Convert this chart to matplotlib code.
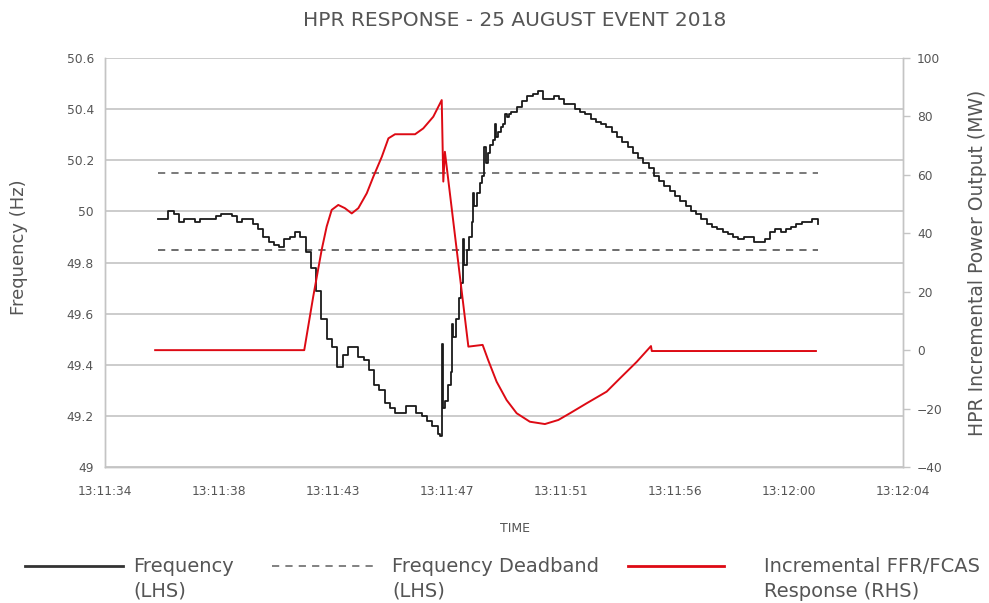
import numpy as np
import matplotlib
matplotlib.use("Agg")
import matplotlib.pyplot as plt
from matplotlib.lines import Line2D

# ---------------------------------------------------------------------------
# Data (time in seconds after 13:11:34)
# ---------------------------------------------------------------------------
TICK_STEP = 4.32
time_labels = ["13:11:34", "13:11:38", "13:11:43", "13:11:47",
               "13:11:51", "13:11:56", "13:12:00", "13:12:04"]

# frequency before the trip, sampled every 0.2 s from t = 2.0
pre_start, pre_step = 2.0, 0.2
freq_pre = [
    49.97, 49.97, 50.00, 49.99, 49.96, 49.97, 49.97, 49.96, 49.97, 49.97,
    49.97, 49.98, 49.99, 49.99, 49.98, 49.96, 49.97, 49.97, 49.95, 49.93,
    49.90, 49.88, 49.87, 49.86, 49.89, 49.90, 49.92, 49.90, 49.84, 49.78,
    49.69, 49.58, 49.50, 49.47, 49.39, 49.44, 49.47, 49.47, 49.43, 49.42,
    49.38, 49.32, 49.30, 49.25, 49.23, 49.21, 49.21, 49.24, 49.24, 49.21,
    49.20, 49.18, 49.16, 49.13,
]

# fast recovery, read at finer resolution (spiky part)
rise_time = [12.7, 12.78, 12.82, 12.9, 13.0, 13.1, 13.16, 13.2, 13.3, 13.4,
             13.5, 13.58, 13.62, 13.7, 13.8, 13.9, 13.96, 14.0, 14.1, 14.2,
             14.3, 14.36, 14.42, 14.5, 14.6, 14.7, 14.76, 14.82, 14.9, 15.0,
             15.1, 15.16, 15.22, 15.3]
freq_rise = [49.12, 49.48, 49.23, 49.26, 49.32, 49.37, 49.56, 49.51, 49.58, 49.66,
             49.72, 49.89, 49.79, 49.85, 49.90, 49.96, 50.07, 50.02, 50.07, 50.11,
             50.14, 50.25, 50.19, 50.23, 50.26, 50.28, 50.34, 50.29, 50.31, 50.33,
             50.34, 50.38, 50.37, 50.38]

# overshoot and settling, every 0.2 s from t = 15.4
post_start, post_step = 15.4, 0.2
freq_post = [
    50.39, 50.41, 50.43, 50.45, 50.46, 50.47, 50.44, 50.44, 50.45, 50.44,
    50.42, 50.42, 50.40, 50.39, 50.38, 50.36, 50.35, 50.34, 50.33, 50.31,
    50.29, 50.27, 50.25, 50.23, 50.21, 50.19, 50.17, 50.14, 50.12, 50.10,
    50.08, 50.06, 50.04, 50.02, 50.00, 49.99, 49.97, 49.95, 49.94, 49.93,
    49.92, 49.91, 49.90, 49.89, 49.90, 49.90, 49.88, 49.88, 49.89, 49.92,
    49.93, 49.92, 49.93, 49.94, 49.95, 49.96, 49.96, 49.97, 49.95,
]

deadband_upper = 50.15
deadband_lower = 49.85

resp_time = [1.9, 7.55, 7.89, 8.21, 8.40, 8.59, 8.84, 9.09, 9.35, 9.60,
             9.92, 10.17, 10.49, 10.74, 10.99, 11.75, 12.06, 12.44, 12.76,
             12.82, 12.88, 13.77, 14.31, 14.52, 14.84, 15.22, 15.60, 16.10,
             16.67, 17.18, 17.62, 18.25, 19.01, 19.52, 20.15, 20.69, 20.72,
             26.94]
resp_mw = [0.0, 0.0, 18.3, 34.3, 42.3, 48.0, 49.7, 48.6, 46.8, 48.6,
           53.7, 59.4, 66.2, 72.5, 73.9, 73.9, 75.9, 79.9, 85.6,
           57.7, 67.9, 1.2, 1.8, -3.4, -10.8, -17.1, -21.6, -24.5,
           -25.3, -23.9, -21.6, -18.2, -14.2, -9.6, -4.0, 1.4, -0.3,
           -0.3]

# ---------------------------------------------------------------------------
# Style
# ---------------------------------------------------------------------------
plt.rcParams["font.family"] = ["DejaVu Sans"]
TEXT = "#555555"
GRID = "#c4c4c4"
RED = "#dd0a14"
DASH = (0, (4, 3.4))

freq_time = np.concatenate([
    pre_start + pre_step * np.arange(len(freq_pre)),
    rise_time,
    post_start + post_step * np.arange(len(freq_post)),
])
frequency = np.concatenate([freq_pre, freq_rise, freq_post])

fig = plt.figure(figsize=(9.89, 6.03), dpi=100)
ax = fig.add_axes([105 / 989, 1 - 467 / 603, 798 / 989, 409 / 603])
ax2 = ax.twinx()

ax.set_axisbelow(True)
ax.yaxis.grid(True, color=GRID, linewidth=1.2)

ax.plot(freq_time, frequency, color="#1a1a1a", lw=1.3, drawstyle="steps-post", zorder=4)
ax.plot([freq_time[0], freq_time[-1]], [deadband_upper] * 2, color="#707070",
        lw=1.3, linestyle=DASH, zorder=3)
ax.plot([freq_time[0], freq_time[-1]], [deadband_lower] * 2, color="#606060",
        lw=1.3, linestyle=DASH, zorder=3)
ax2.plot(resp_time, resp_mw, color=RED, lw=1.4, zorder=5)

ax.set_xlim(0, TICK_STEP * (len(time_labels) - 1))
ax.set_ylim(49, 50.6)
ax2.set_ylim(-40, 100)
ax.set_xticks([TICK_STEP * i for i in range(len(time_labels))])
ax.set_xticklabels(time_labels)
ax.set_yticks(np.arange(49, 50.61, 0.2))
ax.set_yticklabels(["49", "49.2", "49.4", "49.6", "49.8", "50", "50.2", "50.4", "50.6"])
ax2.set_yticks(np.arange(-40, 101, 20))

for a in (ax, ax2):
    for s in a.spines.values():
        s.set_color(GRID)
        s.set_linewidth(1.0)
    a.spines["top"].set_visible(False)
ax.tick_params(axis="x", length=0, pad=13, labelsize=8.8, labelcolor=TEXT)
ax.tick_params(axis="y", length=0, pad=8, labelsize=8.8, labelcolor=TEXT)
ax2.tick_params(axis="y", length=5, width=1, color=GRID, pad=5,
                labelsize=8.8, labelcolor=TEXT)

ax.set_ylabel("Frequency (Hz)", fontsize=13, color=TEXT)
ax.yaxis.set_label_coords(-0.0965, 0.538)
ax2.set_ylabel("HPR Incremental Power Output (MW)", fontsize=13.5, color=TEXT)
ax2.yaxis.set_label_coords(1.0815, 0.5)
ax.set_xlabel("TIME", fontsize=9, color=TEXT)
ax.xaxis.set_label_coords(0.514, -0.135)

fig.text(515 / 989, 1 - 20 / 603, "HPR RESPONSE - 25 AUGUST EVENT 2018",
         ha="center", va="center", fontsize=14.5, color=TEXT)

# ---------------------------------------------------------------------------
# Legend (drawn by hand so the handle sits on the first text line)
# ---------------------------------------------------------------------------
legend_items = [
    ("Frequency\n(LHS)", dict(color="#333333", lw=2.0, linestyle="-"), 25, 123, 133),
    ("Frequency Deadband\n(LHS)", dict(color="#777777", lw=1.3, linestyle=DASH), 272, 374, 392),
    ("Incremental FFR/FCAS\nResponse (RHS)", dict(color=RED, lw=2.0, linestyle="-"), 628, 724, 764),
]
for label, style, x0, x1, xt in legend_items:
    y = 1 - 566 / 603
    fig.add_artist(Line2D([x0 / 989, x1 / 989], [y, y], transform=fig.transFigure, **style))
    fig.text(xt / 989, 1 - 557 / 603, label, ha="left", va="top", fontsize=14,
             color=TEXT, linespacing=1.38)

fig.savefig("out.png", dpi=100)
